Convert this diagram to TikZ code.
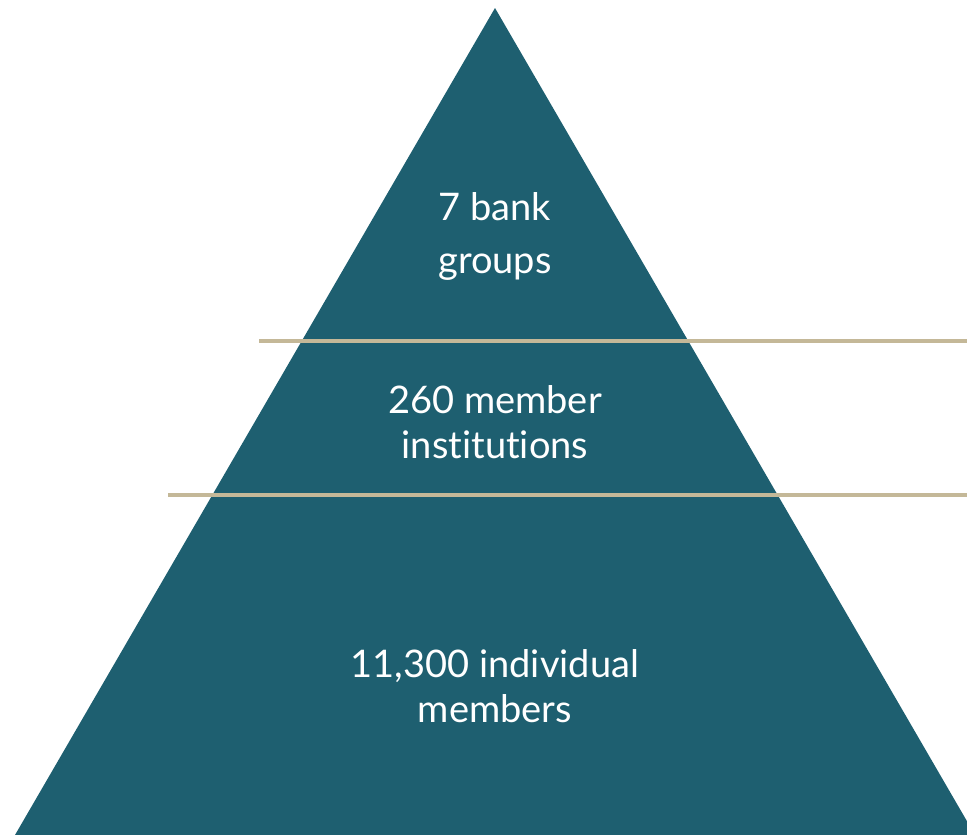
\documentclass[tikz,border=0pt]{standalone}
\usepackage{fontspec}
\setmainfont{Lato}[Ligatures = NoCommon]
\definecolor{pyramidteal}{HTML}{1E5F70}
\definecolor{ruletan}{HTML}{C4B898}

\begin{document}
\begin{tikzpicture}[x = 1pt, y = -1pt, level/.style = {text = white, align = center, inner sep = 0pt, font = \fontsize{38}{45}\selectfont}, divider/.style = {draw = ruletan, line width = 3.5pt}]
            \useasboundingbox (0,0) rectangle (967,835);
            \clip (0,0) rectangle (967,835);
            \coordinate (apex) at (495,8);
            \coordinate (baseleft) at (15,835);
            \coordinate (baseright) at (975,835);
            \fill[pyramidteal] (apex) -- (baseleft) -- (baseright) -- cycle;
            % dividers between the levels
            \coordinate (topstart) at (259,341);
            \coordinate (topend) at (967,341);
            \coordinate (midstart) at (168,495);
            \coordinate (midend) at (967,495);
            \draw[divider] (topstart) -- (topend);
            \draw[divider] (midstart) -- (midend);
            \node[level, font = \fontsize{38}{53}\selectfont] (banks) at (495,236) {7 bank\\groups};
            \node[level] (institutions) at (495,422) {260 member\\institutions};
            \node[level] (individuals) at (495,686) {11,300 individual\\members};
        \end{tikzpicture}
\end{document}
